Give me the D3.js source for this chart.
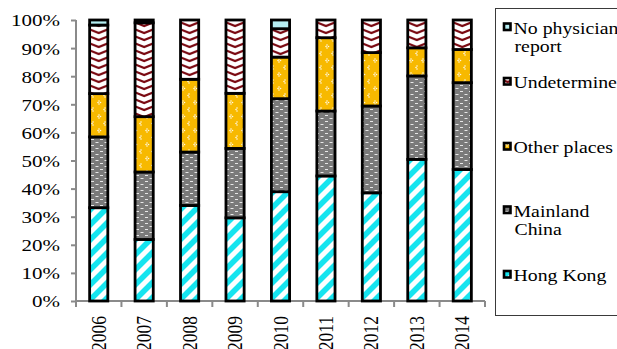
<!DOCTYPE html>
<html>
<head>
<meta charset="utf-8">
<script src="https://cdn.jsdelivr.net/npm/d3@7"></script>
<style>
  html, body { margin: 0; padding: 0; background: #fff; }
  svg { display: block; }
</style>
</head>
<body>
<svg id="chart" width="617" height="349"></svg>
<script>
// Place of infection, share per year (%)
const years = ["2006", "2007", "2008", "2009", "2010", "2011", "2012", "2013", "2014"];
const hongKong     = [33.2, 21.9, 34.0, 29.6, 38.9, 44.5, 38.5, 50.4, 46.8];
const mainland     = [25.2, 24.0, 19.0, 24.7, 33.1, 23.1, 30.9, 29.7, 30.9];
const otherPlaces  = [15.4, 19.7, 25.9, 19.6, 14.8, 26.1, 19.0, 10.0, 11.8];
const undetermined = [24.4, 33.4, 21.1, 26.1, 10.1,  6.3, 11.6,  9.9, 10.5];
const noPhysician  = [ 1.8,  1.0,  0.0,  0.0,  3.1,  0.0,  0.0,  0.0,  0.0];
const yTicks = [0, 10, 20, 30, 40, 50, 60, 70, 80, 90, 100];

const seriesKeys = ["hk", "ml", "op", "ud", "np"];
const seriesNames = {
  np: ["No physician", "report"],
  ud: ["Undetermine"],
  op: ["Other places"],
  ml: ["Mainland", "China"],
  hk: ["Hong Kong"]
};

const rows = years.map((yr, i) => ({
  year: yr,
  hk: hongKong[i], ml: mainland[i], op: otherPlaces[i], ud: undetermined[i], np: noPhysician[i]
}));

const FONT = "Liberation Serif";
const svg = d3.select("#chart");
const STRETCH = 1.2;

const x = d3.scaleBand().domain(years).range([76, 485]).paddingInner(0.6).paddingOuter(0.3);
const y = d3.scaleLinear().domain([0, 100]).range([301, 20]);

// ---- fill patterns ----
const defs = svg.append("defs");

// Hong Kong: cyan upward diagonal stripes
const pHK = defs.append("pattern").attr("id", "pHK")
  .attr("patternUnits", "userSpaceOnUse").attr("width", 15).attr("height", 15);
pHK.append("rect").attr("width", 15).attr("height", 15).attr("fill", "#fff");
pHK.append("path")
  .attr("d", "M-7.5,7.5 L7.5,-7.5 M0,15 L15,0 M7.5,22.5 L22.5,7.5")
  .attr("stroke", "#16e4ef").attr("stroke-width", 5.6);

// Mainland China: grey with staggered short white dashes
const pML = defs.append("pattern").attr("id", "pML")
  .attr("patternUnits", "userSpaceOnUse").attr("width", 9).attr("height", 6);
pML.append("rect").attr("width", 9).attr("height", 6).attr("fill", "#7a7a7a");
pML.append("rect").attr("x", 1).attr("y", 1).attr("width", 3).attr("height", 1).attr("fill", "#e8e8e8");
pML.append("rect").attr("x", 5.5).attr("y", 4).attr("width", 3).attr("height", 1).attr("fill", "#e8e8e8");

// Other places: gold with small white dot clusters
const pOP = defs.append("pattern").attr("id", "pOP")
  .attr("patternUnits", "userSpaceOnUse").attr("width", 12).attr("height", 14);
pOP.append("rect").attr("width", 12).attr("height", 14).attr("fill", "#f7b900");
[[3, 3], [2, 4.5], [3, 6], [4.5, 4.5], [9, 10], [8, 11.5], [9, 13]].forEach(([cx, cy]) =>
  pOP.append("circle").attr("cx", cx).attr("cy", cy).attr("r", 0.8).attr("fill", "#fff8e0"));

// Undetermined: maroon chevrons on white, one chevron per bar width
const bw = x.bandwidth();
const pUD = defs.append("pattern").attr("id", "pUD")
  .attr("patternUnits", "userSpaceOnUse")
  .attr("x", x(years[0])).attr("y", 0)
  .attr("width", x.step()).attr("height", 7);
pUD.append("rect").attr("width", x.step()).attr("height", 7).attr("fill", "#fff");
pUD.append("path")
  .attr("d", `M-1,1 L${bw / 2},5 L${bw + 1},1`)
  .attr("fill", "none").attr("stroke", "#7a0a12").attr("stroke-width", 2.2);

const fills = { hk: "url(#pHK)", ml: "url(#pML)", op: "url(#pOP)", ud: "url(#pUD)", np: "#b5eef2" };

// ---- axes ----
const axisColor = "#8a8a8a";
const yAxis = svg.append("g").attr("transform", "translate(76,0)")
  .call(d3.axisLeft(y).tickValues(yTicks).tickSize(5).tickFormat(d => d + "%"))
  .attr("font-family", null).attr("font-size", null);
yAxis.select(".domain").attr("stroke", axisColor).attr("stroke-width", 2)
  .attr("d", `M0,${y(100)}V${y(0)}`);
yAxis.selectAll(".tick line").attr("stroke", axisColor).attr("stroke-width", 2);
yAxis.selectAll(".tick text")
  .attr("x", null).attr("dy", "0.34em")
  .style("font-family", FONT).style("font-size", "17.5px")
  .attr("fill", "#000")
  .attr("text-anchor", "end")
  .attr("transform", `translate(-16,0) scale(${STRETCH},1)`);

// x axis: baseline with ticks at category boundaries
const xAxis = svg.append("g");
xAxis.append("line")
  .attr("x1", x.range()[0]).attr("x2", x.range()[1])
  .attr("y1", y(0)).attr("y2", y(0))
  .attr("stroke", axisColor).attr("stroke-width", 2);
const bounds = d3.range(years.length + 1).map(i => x.range()[0] + i * x.step());
xAxis.selectAll("line.tk").data(bounds).join("line").attr("class", "tk")
  .attr("x1", d => d).attr("x2", d => d)
  .attr("y1", y(0)).attr("y2", y(0) + 6)
  .attr("stroke", axisColor).attr("stroke-width", 2);

xAxis.selectAll("text.yr").data(years).join("text").attr("class", "yr")
  .style("font-family", FONT).style("font-size", "17.5px")
  .attr("text-anchor", "end")
  .attr("transform", d => `translate(${x(d) + bw / 2 + 7},316) scale(${STRETCH},1) rotate(-90)`)
  .text(d => d);

// ---- stacked bars ----
const stacked = d3.stack().keys(seriesKeys)(rows);
svg.append("g").selectAll("g").data(stacked).join("g")
  .attr("fill", s => fills[s.key])
  .selectAll("rect").data(s => s).join("rect")
  .attr("x", d => x(d.data.year))
  .attr("width", bw)
  .attr("y", d => y(d[1]))
  .attr("height", d => y(d[0]) - y(d[1]))
  .attr("stroke", "#000").attr("stroke-width", 2.8);

// ---- legend ----
const legend = svg.append("g");
legend.append("rect").attr("x", 495.5).attr("y", 8.5).attr("width", 200).attr("height", 307)
  .attr("fill", "none").attr("stroke", "#3a3a3a").attr("stroke-width", 1);

const legendRows = [
  { key: "np", base: 33.5 },
  { key: "ud", base: 88 },
  { key: "op", base: 153 },
  { key: "ml", base: 216.5 },
  { key: "hk", base: 281 }
];
legendRows.forEach(r => {
  legend.append("rect")
    .attr("x", 504).attr("y", r.base - 10).attr("width", 6.5).attr("height", 6.5)
    .attr("fill", fills[r.key]).attr("stroke", "#000").attr("stroke-width", 2.6);
  seriesNames[r.key].forEach((line, j) => {
    legend.append("text")
      .style("font-family", FONT).style("font-size", "16.5px")
      .attr("transform", `translate(${j === 0 ? 513.5 : 514.5},${r.base + j * 18.5}) scale(${STRETCH},1)`)
      .text(line);
  });
});
</script>
</body>
</html>
